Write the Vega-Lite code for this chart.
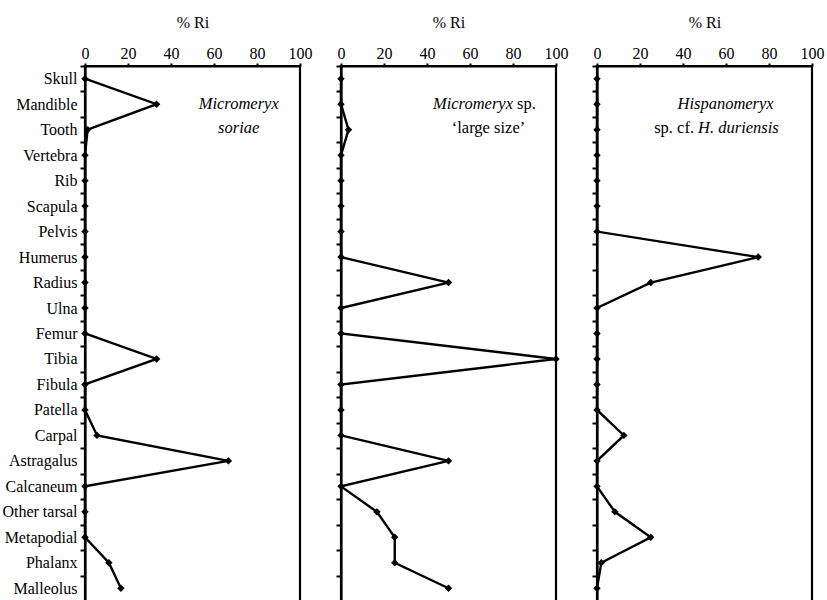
{
  "$schema": "https://vega.github.io/schema/vega-lite/v6.json",
  "padding": {"left": 0, "top": 12, "right": 2, "bottom": 0},
  "background": "white",
  "config": {
    "font": "Liberation Serif",
    "view": {"stroke": "black", "strokeWidth": 2.2},
    "axis": {
      "domainColor": "black", "domainWidth": 2.2, "tickColor": "black", "tickWidth": 2,
      "labelColor": "black", "titleColor": "black", "labelFont": "Liberation Serif",
      "titleFont": "Liberation Serif", "labelFontSize": 16, "titleFontSize": 16,
      "titleFontWeight": "normal", "grid": false
    },
    "text": {"font": "Liberation Serif", "fontSize": 16.5, "color": "black"}
  },
  "datasets": {
    "ri": [
      {"bone": "Skull", "taxon": "soriae", "ri": 0},
      {"bone": "Mandible", "taxon": "soriae", "ri": 33.3},
      {"bone": "Tooth", "taxon": "soriae", "ri": 1.2},
      {"bone": "Vertebra", "taxon": "soriae", "ri": 0},
      {"bone": "Rib", "taxon": "soriae", "ri": 0},
      {"bone": "Scapula", "taxon": "soriae", "ri": 0},
      {"bone": "Pelvis", "taxon": "soriae", "ri": 0},
      {"bone": "Humerus", "taxon": "soriae", "ri": 0},
      {"bone": "Radius", "taxon": "soriae", "ri": 0},
      {"bone": "Ulna", "taxon": "soriae", "ri": 0},
      {"bone": "Femur", "taxon": "soriae", "ri": 0},
      {"bone": "Tibia", "taxon": "soriae", "ri": 33.3},
      {"bone": "Fibula", "taxon": "soriae", "ri": 0},
      {"bone": "Patella", "taxon": "soriae", "ri": 0},
      {"bone": "Carpal", "taxon": "soriae", "ri": 5.6},
      {"bone": "Astragalus", "taxon": "soriae", "ri": 66.7},
      {"bone": "Calcaneum", "taxon": "soriae", "ri": 0},
      {"bone": "Other tarsal", "taxon": "soriae", "ri": 0},
      {"bone": "Metapodial", "taxon": "soriae", "ri": 0},
      {"bone": "Phalanx", "taxon": "soriae", "ri": 11.1},
      {"bone": "Malleolus", "taxon": "soriae", "ri": 16.7},
      {"bone": "Skull", "taxon": "large", "ri": 0},
      {"bone": "Mandible", "taxon": "large", "ri": 0},
      {"bone": "Tooth", "taxon": "large", "ri": 3.5},
      {"bone": "Vertebra", "taxon": "large", "ri": 0},
      {"bone": "Rib", "taxon": "large", "ri": 0},
      {"bone": "Scapula", "taxon": "large", "ri": 0},
      {"bone": "Pelvis", "taxon": "large", "ri": 0},
      {"bone": "Humerus", "taxon": "large", "ri": 0},
      {"bone": "Radius", "taxon": "large", "ri": 50},
      {"bone": "Ulna", "taxon": "large", "ri": 0},
      {"bone": "Femur", "taxon": "large", "ri": 0},
      {"bone": "Tibia", "taxon": "large", "ri": 100},
      {"bone": "Fibula", "taxon": "large", "ri": 0},
      {"bone": "Patella", "taxon": "large", "ri": 0},
      {"bone": "Carpal", "taxon": "large", "ri": 0},
      {"bone": "Astragalus", "taxon": "large", "ri": 50},
      {"bone": "Calcaneum", "taxon": "large", "ri": 0},
      {"bone": "Other tarsal", "taxon": "large", "ri": 16.7},
      {"bone": "Metapodial", "taxon": "large", "ri": 25},
      {"bone": "Phalanx", "taxon": "large", "ri": 25},
      {"bone": "Malleolus", "taxon": "large", "ri": 50},
      {"bone": "Skull", "taxon": "hispano", "ri": 0},
      {"bone": "Mandible", "taxon": "hispano", "ri": 0},
      {"bone": "Tooth", "taxon": "hispano", "ri": 0},
      {"bone": "Vertebra", "taxon": "hispano", "ri": 0},
      {"bone": "Rib", "taxon": "hispano", "ri": 0},
      {"bone": "Scapula", "taxon": "hispano", "ri": 0},
      {"bone": "Pelvis", "taxon": "hispano", "ri": 0},
      {"bone": "Humerus", "taxon": "hispano", "ri": 75},
      {"bone": "Radius", "taxon": "hispano", "ri": 25},
      {"bone": "Ulna", "taxon": "hispano", "ri": 0},
      {"bone": "Femur", "taxon": "hispano", "ri": 0},
      {"bone": "Tibia", "taxon": "hispano", "ri": 0},
      {"bone": "Fibula", "taxon": "hispano", "ri": 0},
      {"bone": "Patella", "taxon": "hispano", "ri": 0},
      {"bone": "Carpal", "taxon": "hispano", "ri": 12.5},
      {"bone": "Astragalus", "taxon": "hispano", "ri": 0},
      {"bone": "Calcaneum", "taxon": "hispano", "ri": 0},
      {"bone": "Other tarsal", "taxon": "hispano", "ri": 8.3},
      {"bone": "Metapodial", "taxon": "hispano", "ri": 25},
      {"bone": "Phalanx", "taxon": "hispano", "ri": 2},
      {"bone": "Malleolus", "taxon": "hispano", "ri": 0}
    ]
  },
  "data": {"name": "ri"},
  "spacing": 19,
  "hconcat": [
    {
      "width": 215, "height": 535,
      "transform": [{"filter": "datum.taxon === 'soriae'"}],
      "encoding": {
        "x": {"field": "ri", "type": "quantitative", "scale": {"domain": [0, 100], "nice": false},
              "axis": {"orient": "top", "title": "% Ri", "values": [0, 20, 40, 60, 80, 100], "tickSize": 3, "labelPadding": 2, "titlePadding": 15, "labelFlush": false}},
        "y": {"field": "bone", "type": "nominal", "sort": null, "scale": {"type": "band", "paddingInner": 0, "paddingOuter": 0},
              "axis": {"title": null, "tickBand": "extent", "tickSize": 5, "labelPadding": 3}}
      },
      "layer": [
        {"mark": {"type": "line", "color": "black", "strokeWidth": 2.4}, "encoding": {"order": {"value": null}}},
        {"mark": {"type": "point", "shape": "diamond", "filled": true, "color": "black", "size": 55, "opacity": 1}},
        {"transform": [{"filter": "datum.bone === 'Skull'"}],
         "mark": {"type": "text", "text": "Micromeryx", "fontStyle": "italic", "align": "center", "baseline": "middle"},
         "encoding": {"x": {"datum": 71.5}, "y": {"datum": "Mandible"}}},
        {"transform": [{"filter": "datum.bone === 'Skull'"}],
         "mark": {"type": "text", "text": "soriae", "fontStyle": "italic", "align": "center", "baseline": "middle", "dy": -2},
         "encoding": {"x": {"datum": 71.5}, "y": {"datum": "Tooth"}}}
      ]
    },
    {
      "width": 215, "height": 535,
      "transform": [{"filter": "datum.taxon === 'large'"}],
      "encoding": {
        "x": {"field": "ri", "type": "quantitative", "scale": {"domain": [0, 100], "nice": false},
              "axis": {"orient": "top", "title": "% Ri", "values": [0, 20, 40, 60, 80, 100], "tickSize": 3, "labelPadding": 2, "titlePadding": 15, "labelFlush": false}},
        "y": {"field": "bone", "type": "nominal", "sort": null, "scale": {"type": "band", "paddingInner": 0, "paddingOuter": 0},
              "axis": {"title": null, "tickBand": "extent", "tickSize": 5, "labels": false}}
      },
      "layer": [
        {"mark": {"type": "line", "color": "black", "strokeWidth": 2.4}, "encoding": {"order": {"value": null}}},
        {"mark": {"type": "point", "shape": "diamond", "filled": true, "color": "black", "size": 55, "opacity": 1}},
        {"transform": [{"filter": "datum.bone === 'Skull'"}],
         "mark": {"type": "text", "text": "Micromeryx", "fontStyle": "italic", "align": "right", "baseline": "middle"},
         "encoding": {"x": {"datum": 80}, "y": {"datum": "Mandible"}}},
        {"transform": [{"filter": "datum.bone === 'Skull'"}],
         "mark": {"type": "text", "text": "sp.", "align": "left", "baseline": "middle", "dx": 4},
         "encoding": {"x": {"datum": 80}, "y": {"datum": "Mandible"}}},
        {"transform": [{"filter": "datum.bone === 'Skull'"}],
         "mark": {"type": "text", "text": "‘large size’", "align": "center", "baseline": "middle", "dy": -2},
         "encoding": {"x": {"datum": 68.6}, "y": {"datum": "Tooth"}}}
      ]
    },
    {
      "width": 215, "height": 535,
      "transform": [{"filter": "datum.taxon === 'hispano'"}],
      "encoding": {
        "x": {"field": "ri", "type": "quantitative", "scale": {"domain": [0, 100], "nice": false},
              "axis": {"orient": "top", "title": "% Ri", "values": [0, 20, 40, 60, 80, 100], "tickSize": 3, "labelPadding": 2, "titlePadding": 15, "labelFlush": false}},
        "y": {"field": "bone", "type": "nominal", "sort": null, "scale": {"type": "band", "paddingInner": 0, "paddingOuter": 0},
              "axis": {"title": null, "tickBand": "extent", "tickSize": 5, "labels": false}}
      },
      "layer": [
        {"mark": {"type": "line", "color": "black", "strokeWidth": 2.4}, "encoding": {"order": {"value": null}}},
        {"mark": {"type": "point", "shape": "diamond", "filled": true, "color": "black", "size": 55, "opacity": 1}},
        {"transform": [{"filter": "datum.bone === 'Skull'"}],
         "mark": {"type": "text", "text": "Hispanomeryx", "fontStyle": "italic", "align": "center", "baseline": "middle"},
         "encoding": {"x": {"datum": 59.8}, "y": {"datum": "Mandible"}}},
        {"transform": [{"filter": "datum.bone === 'Skull'"}],
         "mark": {"type": "text", "text": "sp. cf.", "align": "right", "baseline": "middle", "dx": -1, "dy": -2},
         "encoding": {"x": {"datum": 45.6}, "y": {"datum": "Tooth"}}},
        {"transform": [{"filter": "datum.bone === 'Skull'"}],
         "mark": {"type": "text", "text": "H. duriensis", "fontStyle": "italic", "align": "left", "baseline": "middle", "dx": 3, "dy": -2},
         "encoding": {"x": {"datum": 45.6}, "y": {"datum": "Tooth"}}}
      ]
    }
  ]
}
